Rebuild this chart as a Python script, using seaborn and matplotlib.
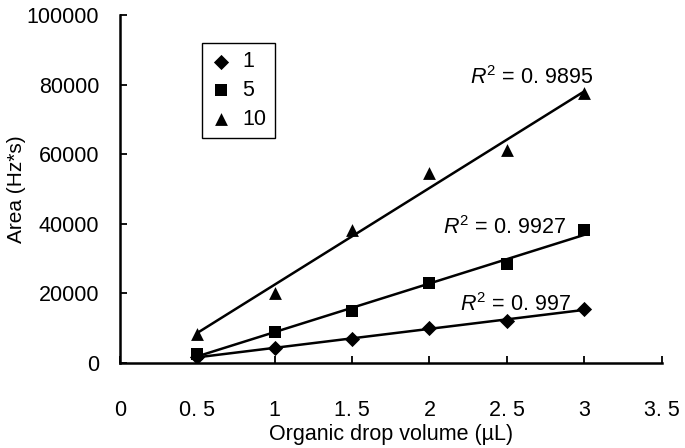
import matplotlib
matplotlib.use("Agg")
import matplotlib.pyplot as plt
import seaborn as sns
import pandas as pd
import numpy as np

volumes = [0.5, 1.0, 1.5, 2.0, 2.5, 3.0]
area_1 = [1700, 4300, 6900, 10000, 12100, 15500]
area_5 = [2600, 8900, 14900, 23000, 28400, 38200]
area_10 = [8300, 20100, 38200, 54600, 61200, 77600]
series_names = ["1", "5", "10"]
r2_labels = ["0. 997", "0. 9927", "0. 9895"]
x_ticks = [0, 0.5, 1, 1.5, 2, 2.5, 3, 3.5]
x_tick_labels = ["0", "0. 5", "1", "1. 5", "2", "2. 5", "3", "3. 5"]
y_ticks = [0, 20000, 40000, 60000, 80000, 100000]
y_tick_labels = ["0", "20000", "40000", "60000", "80000", "100000"]

sns.set_theme(style="ticks")
plt.rcParams["font.family"] = ["Liberation Sans", "DejaVu Sans"]
plt.rcParams["mathtext.fontset"] = "custom"
plt.rcParams["mathtext.rm"] = "Liberation Sans"
plt.rcParams["mathtext.it"] = "Liberation Sans:italic"
plt.rcParams["text.color"] = "black"
plt.rcParams["axes.labelcolor"] = "black"

df = pd.DataFrame({
    "volume": volumes * 3,
    "area": area_1 + area_5 + area_10,
    "conc": [series_names[0]] * 6 + [series_names[1]] * 6 + [series_names[2]] * 6,
})

fig = plt.figure(figsize=(6.85, 4.48), dpi=100)
ax = fig.add_axes([0.175, 0.19, 0.966 - 0.175, 0.9665 - 0.19])

for name in series_names:
    sub = df[df["conc"] == name]
    sns.regplot(data=sub, x="volume", y="area", ci=None, scatter=False,
                color="black", line_kws={"linewidth": 1.8}, ax=ax)

markers = {"1": "D", "5": "s", "10": "^"}
sizes = {"1": 60, "5": 80, "10": 85}
for name in series_names:
    sub = df[df["conc"] == name]
    sns.scatterplot(data=sub, x="volume", y="area", marker=markers[name],
                    s=sizes[name], color="black", edgecolor="black",
                    linewidth=0, ax=ax, label=name, zorder=3)

ax.set_xlim(0, 3.5)
ax.set_ylim(0, 100000)
ax.set_xticks(x_ticks)
ax.set_xticklabels(x_tick_labels)
ax.set_yticks(y_ticks)
ax.set_yticklabels(y_tick_labels)
ax.tick_params(axis="both", direction="in", length=5, width=1.3,
               labelsize=15.5, colors="black")
ax.tick_params(axis="x", pad=27)
ax.tick_params(axis="y", pad=15)
for s in ["top", "right"]:
    ax.spines[s].set_visible(False)
for s in ["left", "bottom"]:
    ax.spines[s].set_linewidth(1.8)
    ax.spines[s].set_color("black")

ax.set_xlabel("Organic drop volume (µL)", fontsize=15.5, labelpad=2)
ax.set_ylabel("Area (Hz*s)", fontsize=15, va="center")
ax.yaxis.set_label_coords(-0.19, 0.5)

r2_pos = [(2.2, 16700), (2.09, 38800), (2.26, 82000)]
for (x, y), lab in zip(r2_pos, r2_labels):
    ax.text(x, y, r"$R^2$ = " + lab, fontsize=15.5, ha="left", va="center",
            color="black")

leg = ax.legend(loc="upper left", bbox_to_anchor=(0.151, 0.92), fontsize=15.5,
                frameon=True, fancybox=False, edgecolor="black", framealpha=1,
                handletextpad=0.5, borderpad=0.4, labelspacing=0.35,
                handlelength=1.0, borderaxespad=0)
leg.get_frame().set_linewidth(1.0)
for t in leg.get_texts():
    t.set_color("black")

fig.savefig("out.png", dpi=100)
